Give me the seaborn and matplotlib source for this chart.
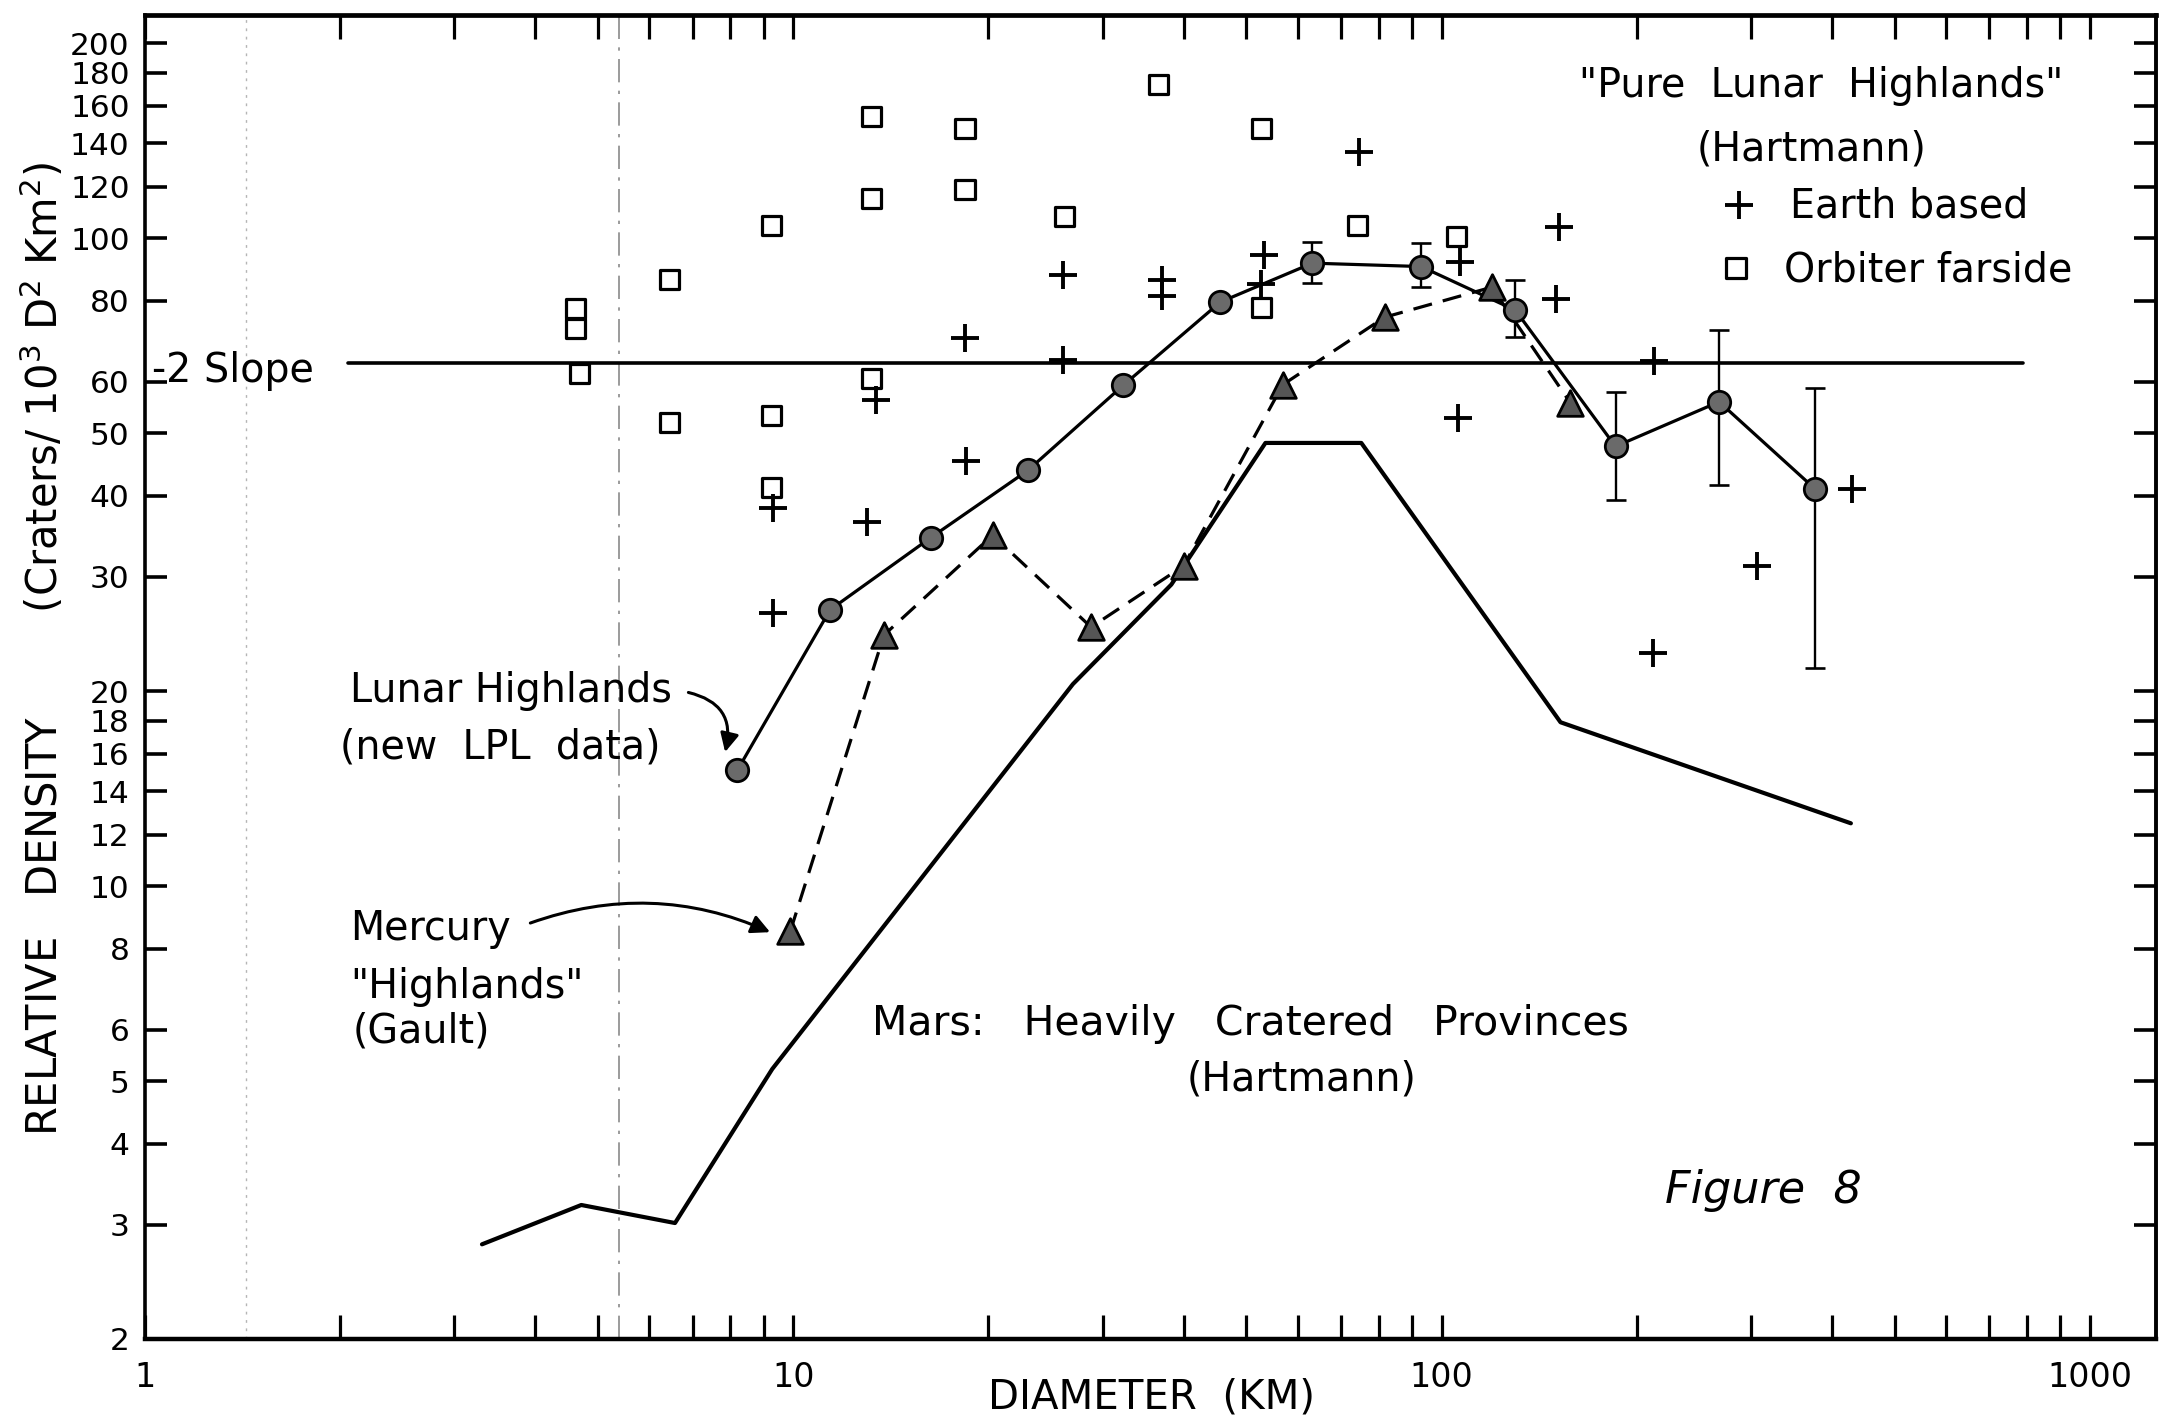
import numpy as np
import pandas as pd
import matplotlib
matplotlib.use("Agg")
import matplotlib.pyplot as plt
import seaborn as sns
from matplotlib.ticker import FixedLocator, FixedFormatter, NullFormatter, NullLocator

nan = np.nan

# ---------------- data ----------------
lunar_d = [8.2, 11.4, 16.3, 23.0, 32.3, 45.6, 63.2, 93.0, 130, 185.5, 268, 377]
lunar_rho = [15.1, 26.7, 34.5, 43.8, 59.3, 79.7, 91.5, 90.4, 77.4, 47.7, 55.9, 41.0]
lunar_err_hi = [nan, nan, nan, nan, nan, nan, 98.6, 98.2, 86.1, 57.9, 72.1, 58.7]
lunar_err_lo = [nan, nan, nan, nan, nan, nan, 85.2, 84.0, 70.4, 39.4, 41.6, 21.7]

mercury_d = [9.9, 13.8, 20.3, 28.8, 40.0, 56.9, 81.7, 119.5, 158]
mercury_rho = [8.53, 24.4, 34.8, 25.1, 31.2, 59.4, 75.5, 84.0, 55.7]

mars_d = [3.31, 4.71, 6.57, 9.28, 27.0, 38.3, 53.5, 75.2, 152.6, 428]
mars_rho = [2.80, 3.22, 3.02, 5.22, 20.5, 29.2, 48.3, 48.3, 17.9, 12.5]

earth_d = [9.29, 9.29, 13.0, 13.4, 18.5, 18.4, 26.1, 26.1, 37.0, 37.0, 53.3,
           52.6, 74.5, 106.6, 106, 152, 150, 213, 307, 212, 429]
earth_rho = [38.3, 26.4, 36.5, 56.2, 45.3, 70.2, 64.9, 87.6, 86.3, 81.3, 94.3,
             85.0, 135.7, 92.0, 52.8, 104, 80.5, 64.6, 31.2, 22.9, 41.0]

orbiter_d = [4.62, 4.62, 4.68, 6.45, 6.45, 9.25, 9.25, 9.25, 13.2, 13.2, 13.2,
             18.4, 18.4, 26.2, 36.6, 52.7, 52.7, 74.1, 105.6]
orbiter_rho = [77.8, 72.6, 61.8, 86.3, 52.0, 104.5, 53.3, 41.2, 154, 115, 60.8,
               147.5, 118.8, 108, 172.7, 147.5, 78.2, 104.5, 100.5]

slope_d = [2.06, 790]
slope_rho = [64.1, 64.1]

xtick_vals = [1, 10, 100, 1000]
xtick_labels = ["1", "10", "100", "1000"]
ytick_vals = [2, 3, 4, 5, 6, 8, 10, 12, 14, 16, 18, 20, 30, 40, 50, 60, 80,
              100, 120, 140, 160, 180, 200]
ytick_labels = [str(v) for v in ytick_vals]

# ---------------- figure ----------------
sns.set_theme(style="ticks")
plt.rcParams["font.family"] = ["DejaVu Sans"]
plt.rcParams["mathtext.fontset"] = "dejavusans"

W, H = 2170, 1421
L, R, T, B = 145, 2156, 15, 1339
fig = plt.figure(figsize=(W / 100, H / 100), dpi=100)
fig.patch.set_facecolor("white")
ax = fig.add_axes([L / W, (H - B) / H, (R - L) / W, (B - T) / H])
ax.set_facecolor("white")
ax.set_xscale("log")
ax.set_yscale("log")


def af(px, py):
    """full-image pixel -> axes fraction"""
    return (px - L) / (R - L), (B - py) / (B - T)


# faint scan/drafting lines
ax.axvline(5.39, color="#8a8a8a", lw=1.2, ls=(0, (14, 5, 2, 5)), zorder=0)
ax.axvline(1.43, color="#b5b5b5", lw=1.0, ls=(0, (2, 4)), zorder=0)

# lines
sns.lineplot(x=mars_d, y=mars_rho, sort=False, estimator=None, color="black",
             linewidth=3.0, ax=ax, zorder=3)
sns.lineplot(x=slope_d, y=slope_rho, sort=False, estimator=None, color="black",
             linewidth=2.6, ax=ax, zorder=3)
sns.lineplot(x=lunar_d, y=lunar_rho, sort=False, estimator=None, color="black",
             linewidth=2.3, ax=ax, zorder=3)
sns.lineplot(x=mercury_d, y=mercury_rho, sort=False, estimator=None, color="black",
             linewidth=2.3, linestyle=(0, (6, 3.5)), ax=ax, zorder=3)

# error bars on lunar highlands
ei = [i for i in range(len(lunar_d)) if not np.isnan(lunar_err_hi[i])]
ex = [lunar_d[i] for i in ei]
ey = [lunar_rho[i] for i in ei]
elo = [lunar_rho[i] - lunar_err_lo[i] for i in ei]
ehi = [lunar_err_hi[i] - lunar_rho[i] for i in ei]
ax.errorbar(ex, ey, yerr=[elo, ehi], fmt="none", ecolor="black",
            elinewidth=1.7, capsize=7.5, capthick=1.9, zorder=4)

# markers
sns.scatterplot(x=earth_d, y=earth_rho, marker="+", s=380, color="black",
                linewidth=2.8, ax=ax, zorder=5)
sns.scatterplot(x=orbiter_d, y=orbiter_rho, marker="s", s=190, facecolor="none",
                edgecolor="black", linewidth=2.3, ax=ax, zorder=5)
sns.scatterplot(x=lunar_d, y=lunar_rho, marker="o", s=260, color="#6a6a6a",
                edgecolor="black", linewidth=2.0, ax=ax, zorder=6)
sns.scatterplot(x=mercury_d, y=mercury_rho, marker="^", s=340, color="#555555",
                edgecolor="black", linewidth=2.0, ax=ax, zorder=6)

ax.set_xlim(1, 1265)
ax.set_ylim(2, 221)

# ticks
ax.xaxis.set_major_locator(FixedLocator(xtick_vals))
ax.xaxis.set_major_formatter(FixedFormatter(xtick_labels))
ax.xaxis.set_minor_locator(FixedLocator([m * 10 ** k for k in range(3) for m in range(2, 10)]))
ax.xaxis.set_minor_formatter(NullFormatter())
ax.yaxis.set_major_locator(FixedLocator(ytick_vals))
ax.yaxis.set_major_formatter(FixedFormatter(ytick_labels))
ax.yaxis.set_minor_locator(NullLocator())

ax.tick_params(axis="x", which="both", direction="in", length=17, width=2.3,
               top=True, bottom=True, labelsize=24, pad=16, colors="black")
ax.tick_params(axis="y", which="both", direction="in", length=16, width=2.6,
               left=True, right=True, labelsize=22.5, pad=11, colors="black")
for side, lw in [("left", 2.6), ("bottom", 3.2), ("right", 2.8), ("top", 3.4)]:
    ax.spines[side].set_visible(True)
    ax.spines[side].set_linewidth(lw)
    ax.spines[side].set_color("black")

# axis labels
ax.set_xlabel("DIAMETER  (KM)", fontsize=29, color="black")
ax.xaxis.set_label_coords(0.5007, af(0, 1378)[1])
ax.set_ylabel("RELATIVE   DENSITY        (Craters/ 10$^3$ D$^2$ Km$^2$)",
              fontsize=30, color="black")
ax.yaxis.set_label_coords(af(67, 0)[0], af(0, 649)[1])

# annotations
fs = 28.5


def txt(px, py, s, **kw):
    x, y = af(px, py)
    kw.setdefault("fontsize", fs)
    ax.text(x, y, s, transform=ax.transAxes, ha="left", va="baseline",
            color="black", **kw)


txt(152, 382, "-2 Slope")
txt(350, 702, "Lunar Highlands")
txt(340, 758, "(new  LPL  data)")
txt(350, 940, "Mercury")
txt(350, 998, "\"Highlands\"")
txt(353, 1042, "(Gault)")
txt(872, 1035, "Mars:   Heavily   Cratered   Provinces", fontsize=29.5)
txt(1187, 1090, "(Hartmann)")
txt(1665, 1203, "Figure  8", style="italic", fontsize=32)
txt(1579, 97, "\"Pure  Lunar  Highlands\"")
txt(1697, 160, "(Hartmann)")
txt(1790, 218, "Earth based")
txt(1784, 282, "Orbiter farside")

px, py = af(1739, 205)
ax.scatter([px], [py], marker="+", s=380, color="black", linewidth=2.8,
           transform=ax.transAxes, clip_on=False, zorder=6)
px, py = af(1736, 268)
ax.scatter([px], [py], marker="s", s=190, facecolor="none", edgecolor="black",
           linewidth=2.3, transform=ax.transAxes, clip_on=False, zorder=6)

arrow = dict(arrowstyle="-|>", color="black", lw=2.2, mutation_scale=28,
             shrinkA=0, shrinkB=0)
ax.annotate("", xy=(7.85, 16.1), xytext=(6.89, 19.9),
            arrowprops=dict(connectionstyle="arc3,rad=-0.5", **arrow))
ax.annotate("", xy=(9.21, 8.49), xytext=(3.93, 8.77),
            arrowprops=dict(connectionstyle="arc3,rad=-0.2", **arrow))

fig.savefig("out.png", dpi=100, facecolor="white")
